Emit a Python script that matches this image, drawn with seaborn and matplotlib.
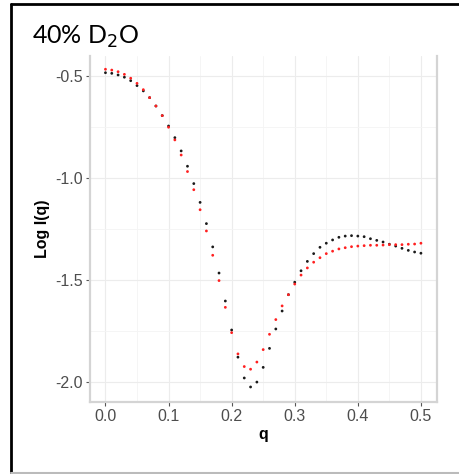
import numpy as np
import pandas as pd
import seaborn as sns
import matplotlib
matplotlib.use("Agg")
import matplotlib.pyplot as plt
from matplotlib.lines import Line2D
from matplotlib.ticker import MultipleLocator

# Scattering vector q
q = [round(0.01 * i, 2) for i in range(51)]

# Log I(q), measured curve (black)
log_i_black = [
    -0.484, -0.487, -0.495, -0.506, -0.523, -0.547, -0.573, -0.606, -0.647, -0.694,
    -0.745, -0.802, -0.867, -0.942, -1.027, -1.119, -1.223, -1.337, -1.465, -1.602,
    -1.744, -1.877, -1.979, -2.023, -1.999, -1.927, -1.834, -1.739, -1.651, -1.571,
    -1.510, -1.454, -1.408, -1.370, -1.339, -1.319, -1.303, -1.290, -1.284, -1.282,
    -1.284, -1.287, -1.297, -1.305, -1.313, -1.324, -1.333, -1.344, -1.354, -1.362,
    -1.368,
]

# Log I(q), model curve (red)
log_i_red = [
    -0.467, -0.471, -0.479, -0.492, -0.511, -0.536, -0.567, -0.606, -0.647, -0.694,
    -0.751, -0.813, -0.887, -0.968, -1.057, -1.155, -1.259, -1.378, -1.502, -1.633,
    -1.757, -1.861, -1.923, -1.936, -1.901, -1.840, -1.765, -1.693, -1.626, -1.571,
    -1.519, -1.475, -1.440, -1.412, -1.390, -1.370, -1.358, -1.347, -1.341, -1.336,
    -1.333, -1.331, -1.329, -1.329, -1.328, -1.326, -1.326, -1.326, -1.324, -1.323,
    -1.319,
]

series_names = ["data", "fit"]
series_colors = ["#1a1a1a", "#ff2020"]

df = pd.concat([
    pd.DataFrame({"q": q, "logI": log_i_black, "series": series_names[0]}),
    pd.DataFrame({"q": q, "logI": log_i_red, "series": series_names[1]}),
])

sns.set_theme(style="white")
plt.rcParams["font.family"] = ["Liberation Sans", "DejaVu Sans"]

fig = plt.figure(figsize=(4.59, 4.74), dpi=100)
ax = fig.add_axes([0.1954, 0.1513, 0.756, 0.7306])

sns.scatterplot(
    data=df, x="q", y="logI", hue="series",
    palette=dict(zip(series_names, series_colors)),
    s=4, linewidth=0, ax=ax, legend=False, zorder=3,
)

ax.set_xlim(-0.025, 0.525)
ax.set_ylim(-2.098, -0.402)
ax.xaxis.set_major_locator(MultipleLocator(0.1))
ax.xaxis.set_minor_locator(MultipleLocator(0.05))
ax.yaxis.set_major_locator(MultipleLocator(0.5))
ax.yaxis.set_minor_locator(MultipleLocator(0.25))
ax.set_xticklabels([f"{v:.1f}" for v in ax.get_xticks()])
ax.set_yticklabels([f"{v:.1f}" for v in ax.get_yticks()])

ax.grid(True, which="major", color="#ececec", linewidth=0.8)
ax.grid(True, which="minor", color="#f4f4f4", linewidth=0.6)
ax.set_axisbelow(True)

grey = "#d4d4d4"
for side in ["left", "bottom", "right"]:
    ax.spines[side].set_visible(True)
    ax.spines[side].set_color(grey)
    ax.spines[side].set_linewidth(1.6)
ax.spines["top"].set_visible(False)

ax.tick_params(axis="both", which="major", length=3, width=0.8, color="#555555",
               labelsize=11.5, labelcolor="#4d4d4d", pad=2, left=True, bottom=True)
ax.tick_params(axis="both", which="minor", length=0)

ax.set_xlabel("q", fontsize=11.5, fontweight="bold", color="black", labelpad=2)
ax.set_ylabel("Log I(q)", fontsize=11.5, fontweight="bold", color="black", labelpad=4)

fig.text(0.07, 0.908, "40% D$_2$O", fontsize=18, family=["Lato", "DejaVu Sans"],
         color="black", ha="left", va="baseline")

# Outer frame
fig.add_artist(Line2D([11 / 459, 1.0], [1 - 4 / 474, 1 - 4 / 474],
                      transform=fig.transFigure, color="black", linewidth=2))
fig.add_artist(Line2D([11 / 459, 11 / 459], [1 - 4 / 474, 1 - 473 / 474],
                      transform=fig.transFigure, color="black", linewidth=2))
fig.add_artist(Line2D([11 / 459, 1.0], [1 - 473 / 474, 1 - 473 / 474],
                      transform=fig.transFigure, color="#bbbbbb", linewidth=1.5))

fig.savefig("out.png", dpi=100, facecolor="white")
